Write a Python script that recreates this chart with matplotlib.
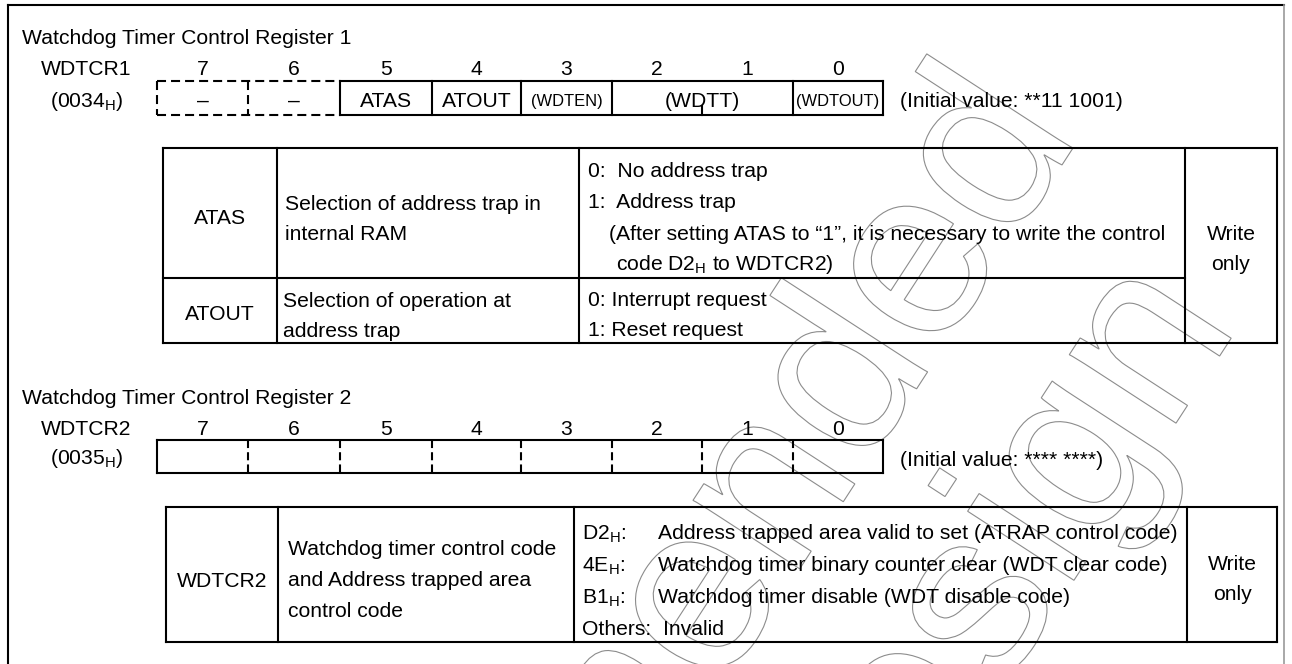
import matplotlib
matplotlib.use('Agg')
import matplotlib.pyplot as plt
from matplotlib.textpath import TextPath
from matplotlib.patches import PathPatch
from matplotlib.font_manager import FontProperties
from matplotlib.transforms import Affine2D

plt.rcParams['font.family'] = ['Liberation Sans', 'DejaVu Sans']
plt.rcParams['mathtext.fontset'] = 'custom'
plt.rcParams['mathtext.rm'] = 'Liberation Sans'
plt.rcParams['lines.scale_dashes'] = False

# register 1
reg1_title = 'Watchdog Timer Control Register 1'
reg1_name = 'WDTCR1'
reg1_addr = '(0034$_\\mathregular{H}$)'
bits = ['7', '6', '5', '4', '3', '2', '1', '0']
reg1_fields = ['\u2013', '\u2013', 'ATAS', 'ATOUT', '(WDTEN)', '(WDTT)', '(WDTOUT)']
reg1_width = [1, 1, 1, 1, 1, 2, 1]
reg1_small = [False, False, False, False, True, False, True]
reg1_init = '(Initial value: **11 1001)'

t1_names = ['ATAS', 'ATOUT']
t1_desc = [['Selection of address trap in', 'internal RAM'],
           ['Selection of operation at', 'address trap']]
t1_vals = [['0:  No address trap', '1:  Address trap'],
           ['0: Interrupt request', '1: Reset request']]
t1_note = ['(After setting ATAS to \u201c1\u201d, it is necessary to write the control',
           'code D2$_\\mathregular{H}$ to WDTCR2)']
rw = ['Write', 'only']

# register 2
reg2_title = 'Watchdog Timer Control Register 2'
reg2_name = 'WDTCR2'
reg2_addr = '(0035$_\\mathregular{H}$)'
reg2_init = '(Initial value: **** ****)'
t2_name = 'WDTCR2'
t2_desc = ['Watchdog timer control code', 'and Address trapped area', 'control code']
t2_codes = ['D2$_\\mathregular{H}$:', '4E$_\\mathregular{H}$:', 'B1$_\\mathregular{H}$:', 'Others:']
t2_text = ['Address trapped area valid to set (ATRAP control code)',
           'Watchdog timer binary counter clear (WDT clear code)',
           'Watchdog timer disable (WDT disable code)',
           'Invalid']

# watermark lines
wm_lines = ['Not Recommended', 'for New Design']

fig = plt.figure(figsize=(12.92, 6.64), dpi=100)
ax = fig.add_axes([0, 0, 1, 1])
ax.set_xlim(0, 1292)
ax.set_ylim(664, 0)
ax.axis('off')

FS = 15.2
LW = 1.5
DASH = (0, (6.5, 3.6))
edges = [157, 248, 340, 432, 521, 612, 702, 793, 883]


def line(x0, y0, x1, y1, ls='-', color='black', lw=LW):
    ax.plot([x0, x1], [y0, y1], color=color, lw=lw, ls=ls,
            solid_capstyle='projecting', dash_capstyle='butt', zorder=3)


def txt(x, y, s, ha='left', size=FS):
    ax.text(x, y, s, ha=ha, va='baseline', fontsize=size, zorder=4)


# watermark outlines
fp = FontProperties(family='Liberation Sans')


def watermark(s, k, lift, target, em=240, ang=57):
    path = TextPath((0, 0), s, size=em, prop=fp)
    xa = TextPath((0, 0), s[:k], size=em, prop=fp).get_extents().x1
    if k < len(s):
        xa += 0.11 * em
    tr = Affine2D().translate(-xa, -lift * em).scale(1, -1).rotate_deg(-ang).translate(*target)
    ax.add_patch(PathPatch(tr.transform_path(path), fill=False, ec='#8c8c8c', lw=0.8, zorder=1))


watermark(wm_lines[0], len(wm_lines[0]), 0, (1073, 148))
watermark(wm_lines[1], 11, 0.68, (938, 490))

# outer frame
line(8, 5, 1284, 5)
line(8, 5, 8, 670)
line(1284, 5, 1284, 670, color='#9a9a9a', lw=1.2)

# ---- register 1 ----
txt(22, 44, reg1_title)
txt(86, 75, reg1_name, ha='center')
txt(87, 107, reg1_addr, ha='center')
for i, b in enumerate(bits):
    txt((edges[i] + edges[i + 1]) / 2, 75, b, ha='center')

top1, bot1 = 81, 115
line(157, top1, 340, top1, ls=DASH)
line(157, bot1, 340, bot1, ls=DASH)
line(157, top1, 157, bot1, ls=DASH)
line(248, top1, 248, bot1, ls=DASH)
line(340, top1, 883, top1)
line(340, bot1, 883, bot1)
pos = 0
for f, w, sm in zip(reg1_fields, reg1_width, reg1_small):
    x0, x1 = edges[pos], edges[pos + w]
    if pos >= 2:
        line(x0, top1, x0, bot1)
    if w == 2:
        line(edges[pos + 1], bot1 - 9, edges[pos + 1], bot1)
    txt((x0 + x1) / 2, 106 if sm else 107, f, ha='center', size=FS * 0.78 if sm else FS)
    pos += w
line(883, top1, 883, bot1)
txt(900, 107, reg1_init)

# table 1
L, C1, C2, C3, R = 163, 277, 579, 1185, 1277
T, M, B = 148, 278, 343
line(L, T, R, T)
line(L, B, R, B)
line(L, M, C3, M)
for x in [L, C1, C2, C3, R]:
    line(x, T, x, B)
txt((L + C1) / 2, 224, t1_names[0], ha='center')
txt((L + C1) / 2, 320, t1_names[1], ha='center')
for j, s in enumerate(t1_desc[0]):
    txt(285, 210 + 30 * j, s)
for j, s in enumerate(t1_desc[1]):
    txt(283, 307 + 30 * j, s)
for j, s in enumerate(t1_vals[0]):
    txt(588, 177 + 31 * j, s)
txt(609, 240, t1_note[0])
txt(616, 270, t1_note[1])
for j, s in enumerate(t1_vals[1]):
    txt(588, 306 + 30 * j, s)
txt((C3 + R) / 2, 240, rw[0], ha='center')
txt((C3 + R) / 2, 270, rw[1], ha='center')

# ---- register 2 ----
txt(22, 404, reg2_title)
txt(86, 435, reg2_name, ha='center')
txt(87, 464, reg2_addr, ha='center')
for i, b in enumerate(bits):
    txt((edges[i] + edges[i + 1]) / 2, 435, b, ha='center')
top2, bot2 = 440, 473
line(157, top2, 883, top2)
line(157, bot2, 883, bot2)
line(157, top2, 157, bot2)
line(883, top2, 883, bot2)
for x in edges[1:-1]:
    line(x, top2, x, bot2, ls=(0, (5.8, 3.0)))
txt(900, 466, reg2_init)

# table 2
L, C1, C2, C3, R = 166, 278, 574, 1187, 1277
T, B = 507, 642
line(L, T, R, T)
line(L, B, R, B)
for x in [L, C1, C2, C3, R]:
    line(x, T, x, B)
txt((L + C1) / 2, 587, t2_name, ha='center')
for j, s in enumerate(t2_desc):
    txt(288, 555 + 31 * j, s)
for j, (c, s) in enumerate(zip(t2_codes, t2_text)):
    y = 539 + 32 * j
    txt(582, y, c)
    txt(663 if j == 3 else 658, y, s)
txt((C3 + R) / 2, 570, rw[0], ha='center')
txt((C3 + R) / 2, 600, rw[1], ha='center')

fig.savefig('out.png', dpi=100)
